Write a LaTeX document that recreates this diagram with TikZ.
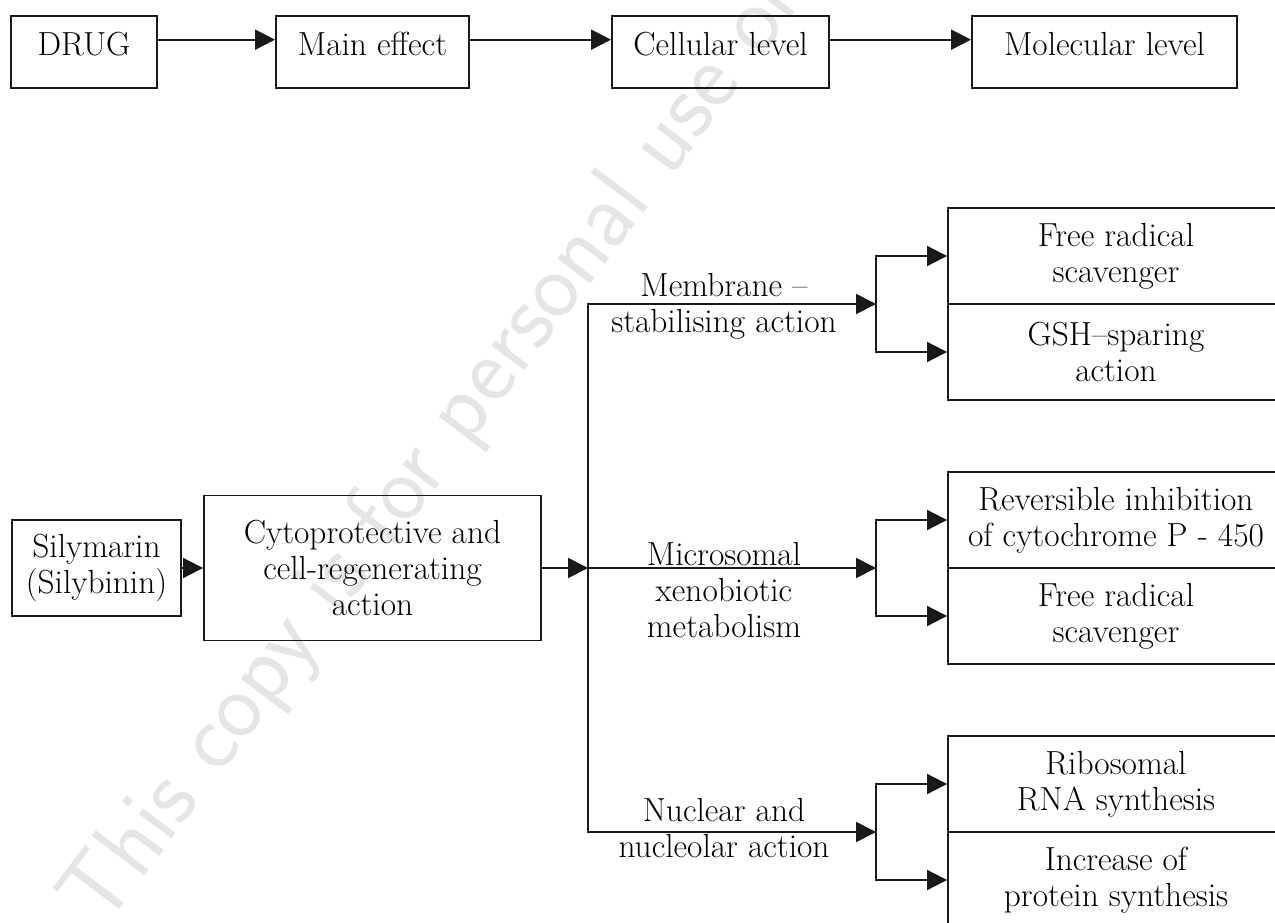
\documentclass[tikz,border=0pt]{standalone}
\usepackage{tikz}
\usetikzlibrary{arrows.meta,calc}
\begin{document}
\begin{tikzpicture}[x=0.02cm,y=-0.02cm,
  every node/.style={font=\fontsize{19}{20.5}\selectfont,align=center,text=black},
  box/.style={draw=black!90,line width=1.1pt,inner sep=0pt},
  topbox/.style={box,text height=0.78cm,text depth=0.66cm,minimum height=1.44cm},
  sidebox/.style={box,minimum width=6.72cm,minimum height=1.92cm},
  arr/.style={draw=black!90,line width=1.1pt,-{Triangle[length=4mm,width=4mm]}},
  both/.style={draw=black!90,line width=1.1pt,{Triangle[length=4mm,width=4mm]}-{Triangle[length=4mm,width=4mm]}}]
\useasboundingbox (0,0) rectangle (1275,923);
% watermark
\node[rotate=53,anchor=base west,text=black!10,font=\sffamily\fontsize{54}{54}\selectfont] (wm) at (100,935) {This copy is for personal use only};
% top row
\node[topbox,minimum width=2.92cm] (drug) at (84,52) {DRUG};
\node[topbox,minimum width=3.86cm] (main) at (372.5,52) {Main effect};
\node[topbox,minimum width=4.34cm] (cell) at (720.5,52) {Cellular level};
\node[topbox,minimum width=5.3cm] (mol) at (1104.5,52) {Molecular level};
\draw[arr] ($(drug.north east)!0.333!(drug.south east)$) -- ($(main.north west)!0.333!(main.south west)$);
\draw[arr] ($(main.north east)!0.333!(main.south east)$) -- ($(cell.north west)!0.333!(cell.south west)$);
\draw[arr] ($(cell.north east)!0.333!(cell.south east)$) -- ($(mol.north west)!0.333!(mol.south west)$);
% drug and its action
\node[box,minimum width=3.38cm,minimum height=1.92cm] (sily) at (96.5,568) {Silymarin\\(Silybinin)};
\node[box,minimum width=6.74cm,minimum height=2.9cm] (cyto) at (372.5,568) {Cytoprotective and\\cell-regenerating\\action};
\draw[arr] (sily) -- (cyto);
% trunk and branches
\coordinate (t1) at (588,304);
\coordinate (tm) at (588,568);
\coordinate (t3) at (588,832);
\coordinate (b1) at (876,304);
\coordinate (b2) at (876,568);
\coordinate (b3) at (876,832);
\draw[arr] (cyto) -- (tm);
\draw[both] (b1) -- (t1) -- (t3) -- (b3);
\draw[arr] (tm) -- (b2);
\node (mem) at (724,306) {Membrane --\\stabilising action};
\node (mic) at (724,590) {Microsomal\\xenobiotic\\metabolism};
\node (nuc) at (724,828) {Nuclear and\\nucleolar action};
% molecular level
\node[sidebox] (fr1) at (1116,256) {Free radical\\scavenger};
\node[sidebox] (gsh) at (1116,352) {GSH--sparing\\action};
\node[sidebox] (rev) at (1116,520) {Reversible inhibition\\of cytochrome P - 450};
\node[sidebox] (fr2) at (1116,616) {Free radical\\scavenger};
\node[sidebox] (rib) at (1116,784) {Ribosomal\\RNA synthesis};
\node[sidebox] (inc) at (1116,880) {Increase of\\protein synthesis};
\draw[both] (fr1.west) -| (b1) |- (gsh.west);
\draw[both] (rev.west) -| (b2) |- (fr2.west);
\draw[both] (rib.west) -| (b3) |- (inc.west);
\end{tikzpicture}
\end{document}
